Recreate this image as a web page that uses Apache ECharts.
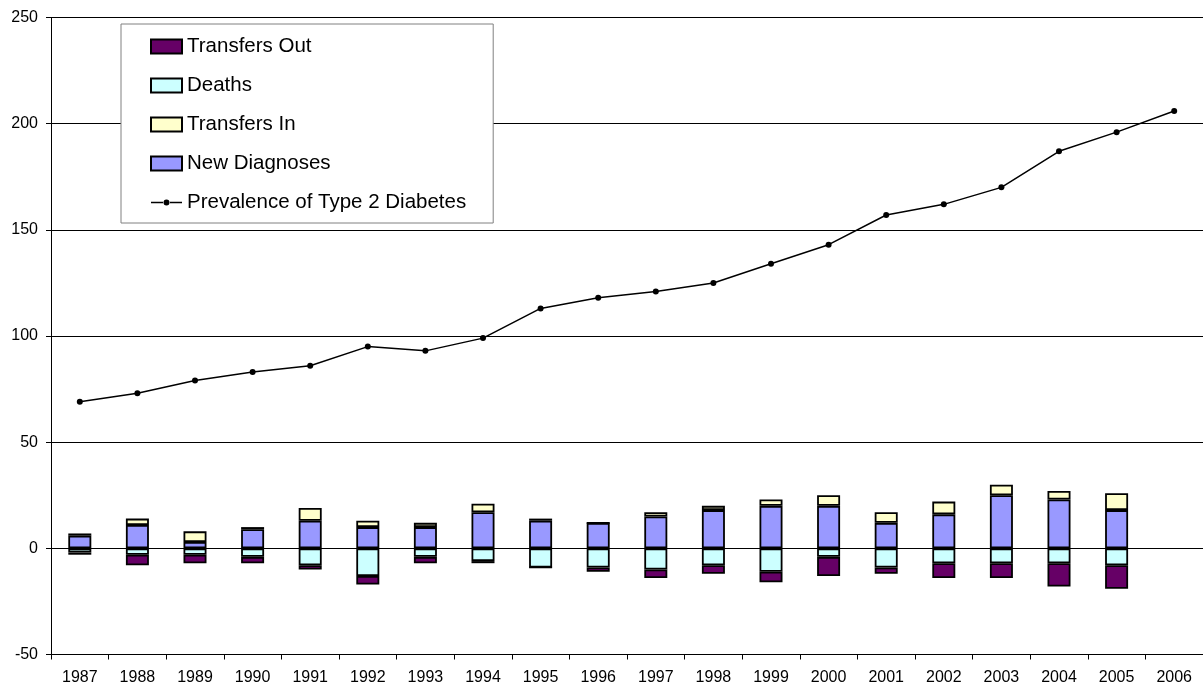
<!DOCTYPE html>
<html>
<head>
<meta charset="utf-8">
<script src="https://cdn.jsdelivr.net/npm/echarts@6/dist/echarts.min.js"></script>
<style>
html,body{margin:0;padding:0;background:#fff;}
#chart{width:1203px;height:688px;}
</style>
</head>
<body>
<div id="chart"></div>
<script>
var years = ['1987','1988','1989','1990','1991','1992','1993','1994','1995','1996','1997','1998','1999','2000','2001','2002','2003','2004','2005','2006'];
var newDiagnoses = [6, 11, 3, 9, 13, 10, 10, 17, 13, 12, 15, 18, 20, 20, 12, 16, 25, 23, 18, null];
var transfersIn  = [1, 3, 5, 1, 6, 3, 2, 4, 1, 0, 2, 2, 3, 5, 5, 6, 5, 4, 8, null];
var deaths       = [-2, -3, -3, -4, -8, -13, -4, -6, -9, -9, -10, -8, -11, -4, -9, -7, -7, -7, -8, null];
var transfersOut = [-1, -5, -4, -3, -2, -4, -3, -1, 0, -2, -4, -4, -5, -9, -3, -7, -7, -11, -11, null];
var prevalence   = [69, 73, 79, 83, 86, 95, 93, 99, 113, 118, 121, 125, 134, 143, 157, 162, 170, 187, 196, 206];
var yTicks = [-50, 0, 50, 100, 150, 200, 250];

var font = 'Liberation Sans, Arial, sans-serif';
var chart = echarts.init(document.getElementById('chart'), null, {renderer: 'canvas'});
function barSeries(name, data, color) {
  return {
    name: name, type: 'bar', stack: 'flow', data: data, barWidth: 23,
    itemStyle: {color: color, borderColor: '#000', borderWidth: 1.8},
    emphasis: {disabled: true}
  };
}
var lineIcon = 'path://M0,3.35 L12,3.35 L12,4.65 L0,4.65 Z M19,3.35 L31,3.35 L31,4.65 L19,4.65 Z M12.5,4 A3,3 0 1,1 18.5,4 A3,3 0 1,1 12.5,4 Z M15.5,0 L15.5,0 M15.5,8 L15.5,8';
chart.setOption({
  animation: false,
  backgroundColor: '#fff',
  grid: {left: 51, top: 17.5, width: 1157, height: 637, containLabel: false},
  legend: {
    orient: 'vertical', left: 121, top: 24,
    padding: [12, 27, 10, 29],
    itemGap: 18, itemWidth: 31, itemHeight: 14,
    symbolKeepAspect: true,
    borderColor: '#808080', borderWidth: 1, backgroundColor: '#fff',
    textStyle: {fontFamily: font, fontSize: 20.5, color: '#000', lineHeight: 19},
    data: [
      {name: 'Transfers Out', icon: 'rect'},
      {name: 'Deaths', icon: 'rect'},
      {name: 'Transfers In', icon: 'rect'},
      {name: 'New Diagnoses', icon: 'rect'},
      {name: 'Prevalence of Type 2 Diabetes', icon: lineIcon}
    ]
  },
  xAxis: {
    type: 'category', data: years, boundaryGap: true,
    axisLine: {onZero: false, lineStyle: {color: '#000', width: 1}},
    axisTick: {show: true, length: 5, lineStyle: {color: '#000'}},
    axisLabel: {fontFamily: font, fontSize: 16, color: '#000', margin: 15, interval: 0},
    splitLine: {show: false}
  },
  yAxis: {
    type: 'value', min: yTicks[0], max: yTicks[yTicks.length - 1], interval: 50,
    axisLine: {show: true, lineStyle: {color: '#000', width: 1}},
    axisTick: {show: true, length: 5, lineStyle: {color: '#000'}},
    axisLabel: {fontFamily: font, fontSize: 16, color: '#000', margin: 13},
    splitLine: {show: true, lineStyle: {color: '#000', width: 1}}
  },
  series: [
    barSeries('New Diagnoses', newDiagnoses, '#9999FF'),
    barSeries('Transfers In', transfersIn, '#FFFFCC'),
    barSeries('Deaths', deaths, '#CCFFFF'),
    barSeries('Transfers Out', transfersOut, '#660066'),
    {
      name: 'Prevalence of Type 2 Diabetes', type: 'line', data: prevalence,
      symbol: 'circle', symbolSize: 6, showSymbol: true,
      lineStyle: {color: '#000', width: 1.5},
      itemStyle: {color: '#000'},
      emphasis: {disabled: true}, z: 5
    }
  ]
});
</script>
</body>
</html>
